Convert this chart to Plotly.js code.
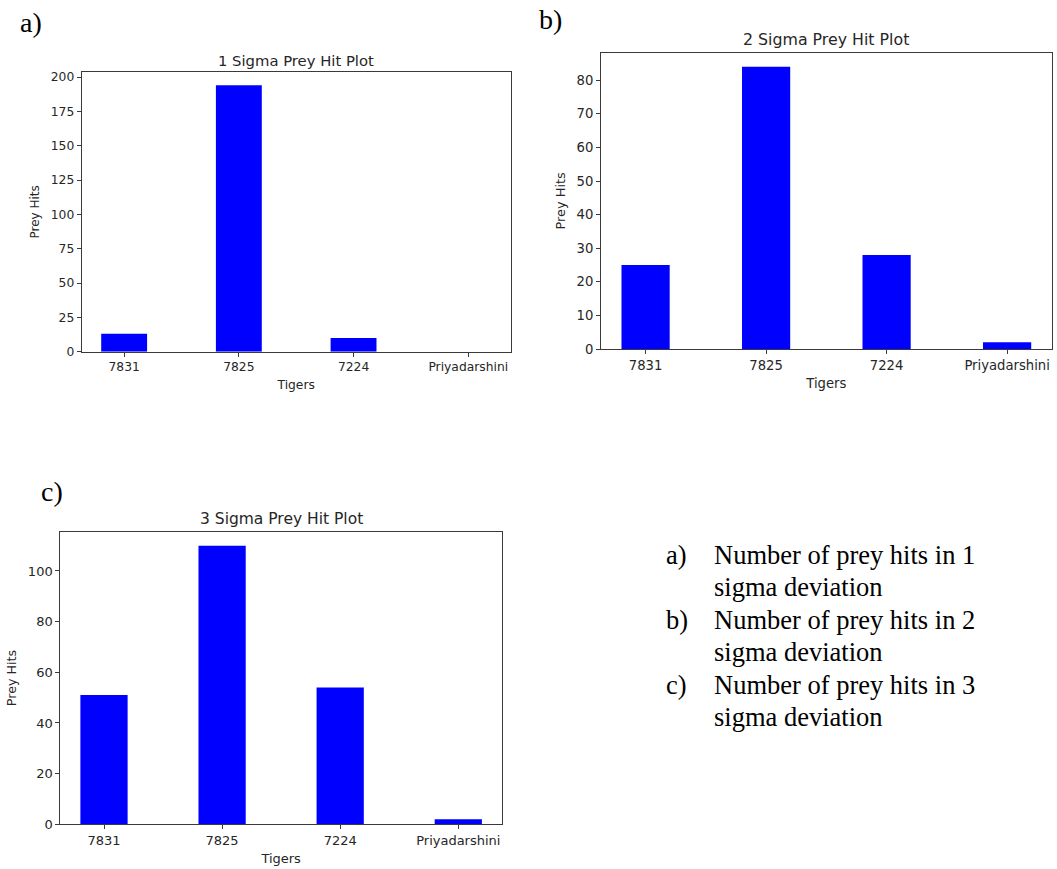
<!DOCTYPE html>
<html>
<head>
<meta charset="utf-8">
<script src="https://cdn.plot.ly/plotly-3.0.1.min.js"></script>
<style>html,body{margin:0;padding:0;background:#fff;}#chart{width:1057px;height:869px;}</style>
</head>
<body>
<div id="chart"></div>
<script>
// ---- Data ----
const tigers = ["7831", "7825", "7224", "Priyadarshini"];
const hits1Sigma = [13, 194, 10, 0];
const hits2Sigma = [25, 84, 28, 2];
const hits3Sigma = [51, 110, 54, 2];
const panelTitles = ["1 Sigma Prey Hit Plot", "2 Sigma Prey Hit Plot", "3 Sigma Prey Hit Plot"];
const panelLetters = ["a)", "b)", "c)"];
const xLabel = "Tigers";
const yLabel = "Prey Hits";
const captionLines = [
  ["a)", "Number of prey hits in 1", "sigma deviation"],
  ["b)", "Number of prey hits in 2", "sigma deviation"],
  ["c)", "Number of prey hits in 3", "sigma deviation"]
];

// ---- Layout helpers ----
const W = 1057, H = 869;
const px = x => x / W;
const py = y => 1 - y / H;
const TXT = "#262626";
const LINE = "#3a3a3a";
const SANS = "DejaVu Sans, sans-serif";
const SERIF = "Liberation Serif, Times New Roman, serif";

// panel boxes in pixels: [left, right, top, bottom]
const boxes = [
  [81.7, 510.7, 72, 351.7],
  [601, 1051.7, 52.7, 349],
  [60.3, 502, 531.7, 824.3]
];
const tickSizes = [12.3, 13.2, 13];
const titleSizes = [14.8, 15.8, 15.5];
const yDticks = [25, 10, 20];
const series = [hits1Sigma, hits2Sigma, hits3Sigma];

const data = series.map((vals, i) => ({
  type: "bar",
  x: tigers,
  y: vals,
  width: 0.4,
  marker: {color: "#0000ff", line: {width: 0}},
  xaxis: i === 0 ? "x" : "x" + (i + 1),
  yaxis: i === 0 ? "y" : "y" + (i + 1),
  hoverinfo: "x+y",
  showlegend: false
}));

const layout = {
  width: W, height: H,
  margin: {l: 0, r: 0, t: 0, b: 0},
  paper_bgcolor: "#ffffff",
  plot_bgcolor: "#ffffff",
  showlegend: false,
  annotations: [],
  font: {family: SANS, color: TXT}
};

boxes.forEach((b, i) => {
  const sx = i === 0 ? "" : String(i + 1);
  const maxV = Math.max(...series[i]);
  layout["xaxis" + sx] = {
    domain: [px(b[0]), px(b[1])],
    anchor: "y" + sx,
    type: "category",
    range: [-0.37, 3.37],
    showline: true, mirror: true, linecolor: LINE, linewidth: 1,
    ticks: "outside", ticklen: 4, tickcolor: LINE, tickwidth: 1,
    showgrid: false, zeroline: false,
    tickfont: {family: SANS, size: tickSizes[i], color: TXT},
    title: {text: xLabel, font: {family: SANS, size: tickSizes[i], color: TXT}, standoff: 6}
  };
  layout["yaxis" + sx] = {
    domain: [py(b[3]), py(b[2])],
    anchor: "x" + sx,
    range: [0, maxV * 1.05],
    dtick: yDticks[i], tick0: 0,
    showline: true, mirror: true, linecolor: LINE, linewidth: 1,
    ticks: "outside", ticklen: 4, tickcolor: LINE, tickwidth: 1,
    showgrid: false, zeroline: false,
    tickfont: {family: SANS, size: tickSizes[i], color: TXT},
    title: {text: yLabel, font: {family: SANS, size: tickSizes[i] - 0.3, color: TXT}, standoff: 8}
  };
  layout.annotations.push({
    text: panelTitles[i], xref: "paper", yref: "paper",
    x: px((b[0] + b[1]) / 2), y: py(b[2] - 1.5), xanchor: "center", yanchor: "bottom",
    showarrow: false, font: {family: SANS, size: titleSizes[i], color: TXT}
  });
});

// panel letters
const letterPos = [[18, 22], [537, 19.5], [39, 491]];
panelLetters.forEach((t, i) => {
  layout.annotations.push({
    text: t, xref: "paper", yref: "paper",
    x: px(letterPos[i][0]), y: py(letterPos[i][1]), xanchor: "left", yanchor: "middle",
    showarrow: false, font: {family: SERIF, size: 28, color: "#000"}
  });
});

// caption block
const capTop = 555, capStep = 32.4;
captionLines.forEach((c, i) => {
  const y1 = capTop + capStep * (2 * i);
  const y2 = capTop + capStep * (2 * i + 1);
  layout.annotations.push({
    text: c[0], xref: "paper", yref: "paper", x: px(664), y: py(y1),
    xanchor: "left", yanchor: "middle", showarrow: false,
    font: {family: SERIF, size: 26.5, color: "#000"}
  });
  layout.annotations.push({
    text: c[1], xref: "paper", yref: "paper", x: px(712), y: py(y1),
    xanchor: "left", yanchor: "middle", showarrow: false,
    font: {family: SERIF, size: 26.5, color: "#000"}
  });
  layout.annotations.push({
    text: c[2], xref: "paper", yref: "paper", x: px(712), y: py(y2),
    xanchor: "left", yanchor: "middle", showarrow: false,
    font: {family: SERIF, size: 26.5, color: "#000"}
  });
});

Plotly.newPlot("chart", data, layout, {displayModeBar: false, staticPlot: true});
</script>
</body>
</html>
